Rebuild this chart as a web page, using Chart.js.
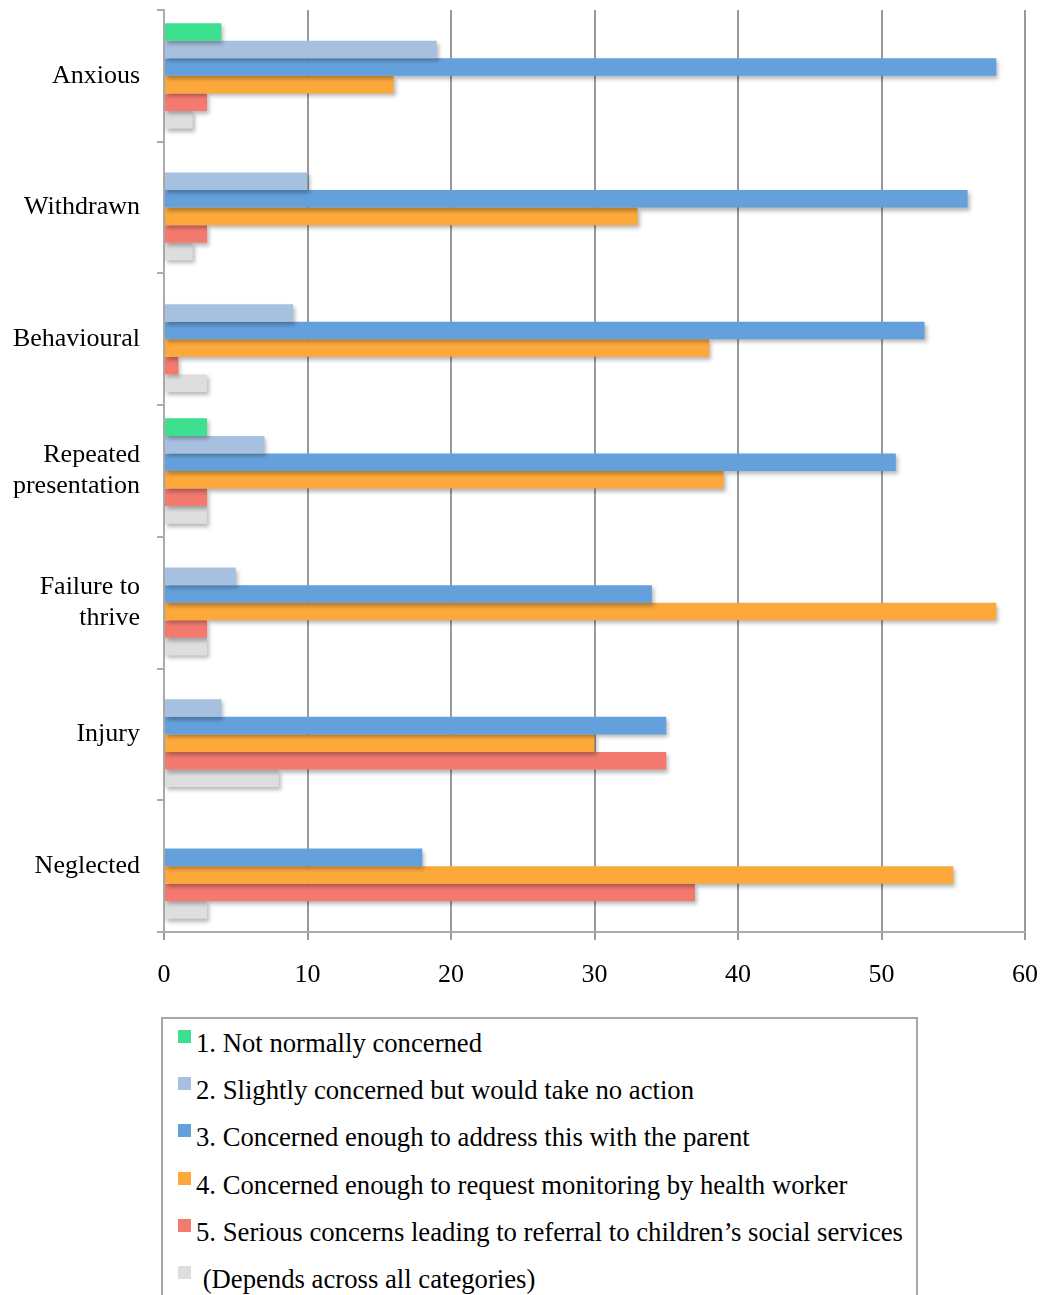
<!DOCTYPE html>
<html>
<head>
<meta charset="utf-8">
<script src="https://cdn.jsdelivr.net/npm/chart.js@4.4.1/dist/chart.umd.min.js"></script>
<style>
    body { margin: 0; background: #fff; width: 1045px; height: 1295px; overflow: hidden; position: relative; }
    #caixa-grafico { position: absolute; left: 0; top: 0; width: 1045px; height: 1000px; }
    #legenda {
        position: absolute; left: 161px; top: 1017px; width: 757px; height: 300px;
        border: 2px solid #a6a6a6; box-sizing: border-box;
        font-family: "Liberation Serif", "Times New Roman", serif; font-size: 26.7px; color: #000;
    }
    .item-legenda { position: absolute; left: 15px; height: 30px; line-height: 30px; white-space: nowrap; }
    .quadrado { position: absolute; left: 0; top: 2px; width: 13px; height: 13px; }
    .texto { position: absolute; left: 18px; top: 0; }
</style>
</head>
<body>
<div id="caixa-grafico"><canvas id="grafico-preocupacao"></canvas></div>
<div id="legenda"></div>

<script>
// Categorias (de cima para baixo)
const categorias = [
    'Anxious',
    'Withdrawn',
    'Behavioural',
    ['Repeated', 'presentation'],
    ['Failure to', 'thrive'],
    'Injury',
    'Neglected'
];

// Nomes das séries
const nomesSeries = [
    '1. Not normally concerned',
    '2. Slightly concerned but would take no action',
    '3. Concerned enough to address this with the parent',
    '4. Concerned enough to request monitoring by health worker',
    '5. Serious concerns leading to referral to children\u2019s social services',
    '\u00a0(Depends across all categories)'
];

const coresSeries = ['#3de08f', '#a6c1e0', '#64a1dc', '#fca83b', '#f47a6f', '#dedede'];

// Valores de cada série, na ordem das categorias
const naoPreocupado = [4, 0, 0, 3, 0, 0, 0];
const poucoPreocupado = [19, 10, 9, 7, 5, 4, 0];
const conversarComPais = [58, 56, 53, 51, 34, 35, 18];
const pedirMonitoramento = [16, 33, 38, 39, 58, 30, 55];
const encaminhamento = [3, 3, 1, 3, 3, 35, 37];
const depende = [2, 2, 3, 3, 3, 8, 3];

const valoresSeries = [naoPreocupado, poucoPreocupado, conversarComPais, pedirMonitoramento, encaminhamento, depende];

// Ticks do eixo X
const eixoMin = 0;
const eixoMax = 60;
const passoEixo = 10;

const fonteSerif = '"Liberation Serif", "Times New Roman", serif';

// Sombra leve nas barras
const pluginSombra = {
    id: 'sombraBarras',
    beforeDatasetsDraw(chart) {
        const ctx = chart.ctx;
        ctx.save();
        ctx.shadowColor = 'rgba(0, 0, 0, 0.28)';
        ctx.shadowBlur = 4;
        ctx.shadowOffsetX = 2;
        ctx.shadowOffsetY = 3;
    },
    afterDatasetsDraw(chart) {
        chart.ctx.restore();
    }
};

const datasets = valoresSeries.map((valores, i) => ({
    label: nomesSeries[i],
    data: valores,
    backgroundColor: coresSeries[i],
    borderWidth: 0,
    categoryPercentage: 0.8,
    barPercentage: 1.0
}));

var ctx = document.getElementById('grafico-preocupacao').getContext('2d');
var graficoPreocupacao = new Chart(ctx, {
    type: 'bar',
    data: { labels: categorias, datasets: datasets },
    options: {
        indexAxis: 'y',
        responsive: true,
        maintainAspectRatio: false,
        animation: false,
        layout: { padding: { top: 10, right: 20, left: 0, bottom: 0 } },
        plugins: {
            legend: { display: false },
            tooltip: { enabled: false }
        },
        scales: {
            x: {
                min: eixoMin,
                max: eixoMax,
                ticks: {
                    stepSize: passoEixo,
                    color: '#000',
                    padding: 20,
                    font: { family: fonteSerif, size: 26 }
                },
                grid: { color: '#9a9a9a', lineWidth: 2, tickLength: 8 },
                border: { color: '#ababab', width: 2 },
                afterFit(escala) {
                    escala.height = 68;
                    escala.paddingLeft = 0;
                    escala.paddingRight = 0;
                }
            },
            y: {
                ticks: {
                    color: '#000',
                    padding: 17,
                    font: { family: fonteSerif, size: 26, lineHeight: 1.2 }
                },
                grid: { drawOnChartArea: false, offset: true, tickLength: 7, color: '#ababab', lineWidth: 2 },
                border: { color: '#ababab', width: 2 },
                afterFit(escala) {
                    escala.width = 164;
                    escala.paddingTop = 0;
                    escala.paddingBottom = 0;
                }
            }
        }
    },
    plugins: [pluginSombra]
});

// Legenda em HTML
const legenda = document.getElementById('legenda');
nomesSeries.forEach((nome, i) => {
    const item = document.createElement('div');
    item.className = 'item-legenda';
    item.style.top = (9 + i * 47.2) + 'px';
    item.innerHTML = '<span class="quadrado" style="background:' + coresSeries[i] + '"></span>' +
        '<span class="texto">' + nome + '</span>';
    legenda.appendChild(item);
});
</script>
</body>
</html>
